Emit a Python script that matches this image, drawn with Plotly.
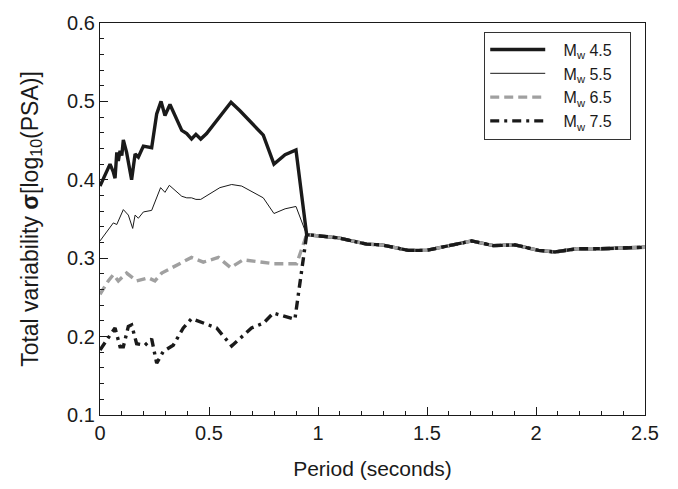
import plotly.graph_objects as go

# Shared long-period portion (all magnitudes converge)
tail_x = [1.093, 1.223, 1.292, 1.414, 1.498, 1.705, 1.804, 1.904, 2.011, 2.087, 2.187, 2.294, 2.5]
tail_y = [0.326, 0.318, 0.317, 0.310, 0.310, 0.322, 0.316, 0.317, 0.310, 0.308, 0.312, 0.312, 0.314]

mw45_x = [0.0, 0.046, 0.061, 0.069, 0.077, 0.084, 0.092, 0.100, 0.107, 0.122, 0.145, 0.161, 0.176, 0.199,
          0.237, 0.260, 0.280, 0.298, 0.321, 0.344, 0.375, 0.398, 0.420, 0.440, 0.462, 0.489, 0.601, 0.642,
          0.703, 0.749, 0.798, 0.849, 0.899, 0.948]
mw45_y = [0.392, 0.420, 0.410, 0.402, 0.435, 0.424, 0.437, 0.431, 0.451, 0.435, 0.400, 0.433, 0.429, 0.443,
          0.441, 0.484, 0.500, 0.482, 0.496, 0.482, 0.463, 0.459, 0.452, 0.458, 0.452, 0.459, 0.499, 0.488,
          0.470, 0.457, 0.420, 0.432, 0.438, 0.330]

mw55_x = [0.0, 0.038, 0.061, 0.077, 0.089, 0.107, 0.130, 0.150, 0.161, 0.176, 0.199, 0.237, 0.278, 0.298,
          0.318, 0.375, 0.398, 0.420, 0.440, 0.462, 0.550, 0.604, 0.650, 0.749, 0.798, 0.849, 0.899, 0.948]
mw55_y = [0.322, 0.336, 0.345, 0.343, 0.350, 0.362, 0.355, 0.338, 0.355, 0.351, 0.359, 0.361, 0.390, 0.384,
          0.393, 0.379, 0.377, 0.377, 0.375, 0.375, 0.390, 0.394, 0.392, 0.377, 0.357, 0.363, 0.366, 0.330]

mw65_x = [0.0, 0.038, 0.061, 0.084, 0.122, 0.168, 0.222, 0.252, 0.283, 0.336, 0.420, 0.474, 0.543, 0.599,
          0.657, 0.795, 0.902, 0.948]
mw65_y = [0.254, 0.271, 0.279, 0.271, 0.281, 0.271, 0.275, 0.271, 0.281, 0.289, 0.301, 0.295, 0.301, 0.288,
          0.298, 0.293, 0.293, 0.330]

mw75_x = [0.0, 0.046, 0.069, 0.092, 0.107, 0.130, 0.145, 0.168, 0.206, 0.237, 0.260, 0.290, 0.336, 0.382,
          0.420, 0.535, 0.604, 0.695, 0.749, 0.795, 0.894, 0.948]
mw75_y = [0.183, 0.203, 0.211, 0.187, 0.187, 0.213, 0.215, 0.191, 0.189, 0.197, 0.166, 0.181, 0.189, 0.211,
          0.223, 0.211, 0.188, 0.211, 0.217, 0.230, 0.222, 0.330]

names = ["M<sub>w</sub> 4.5", "M<sub>w</sub> 5.5", "M<sub>w</sub> 6.5", "M<sub>w</sub> 7.5"]
series = [(mw45_x, mw45_y), (mw55_x, mw55_y), (mw65_x, mw65_y), (mw75_x, mw75_y)]
styles = [
    dict(color="#1a1a1a", width=3.4, dash="solid"),
    dict(color="#1a1a1a", width=1.0, dash="solid"),
    dict(color="#a0a0a0", width=3.4, dash="9px,5px"),
    dict(color="#1a1a1a", width=3.4, dash="9px,5px,3px,5px"),
]

fig = go.Figure()
for name, (sx, sy), st in zip(names, series, styles):
    fig.add_trace(go.Scatter(x=sx + tail_x, y=sy + tail_y, mode="lines",
                             name="&nbsp;&nbsp;&nbsp;" + name + "&nbsp;&nbsp;&nbsp;", line=st))

font = "Liberation Sans, Arial, sans-serif"
fig.update_layout(
    width=678, height=489,
    margin=dict(l=100, r=33, t=14, b=68),
    paper_bgcolor="white", plot_bgcolor="white",
    font=dict(family=font, size=20, color="#1a1a1a"),
    showlegend=True,
    legend=dict(x=0.705, y=0.978, xanchor="left", yanchor="top",
                bordercolor="#333333", borderwidth=1, bgcolor="white",
                font=dict(size=16, family=font), tracegroupgap=0,
                itemwidth=55),
)
fig.update_xaxes(
    range=[0, 2.5], tickmode="array", tickvals=[0, 0.5, 1, 1.5, 2, 2.5],
    ticktext=["0", "0.5", "1", "1.5", "2", "2.5"],
    ticks="inside", ticklen=8, tickwidth=1, tickcolor="#1a1a1a",
    minor=dict(ticks="inside", ticklen=4, dtick=0.1, tickcolor="#1a1a1a", showgrid=False),
    showline=True, linecolor="#1a1a1a", linewidth=1.2, mirror=True,
    showgrid=False, zeroline=False,
    title=dict(text="Period (seconds)", font=dict(size=21), standoff=18),
)
fig.update_yaxes(
    range=[0.1, 0.6], tickmode="array", tickvals=[0.1, 0.2, 0.3, 0.4, 0.5, 0.6],
    ticktext=["0.1", "0.2", "0.3", "0.4", "0.5", "0.6"],
    ticks="inside", ticklen=8, tickwidth=1, tickcolor="#1a1a1a",
    minor=dict(ticks="inside", ticklen=4, dtick=0.02, tickcolor="#1a1a1a", showgrid=False),
    showline=True, linecolor="#1a1a1a", linewidth=1.2, mirror=True,
    showgrid=False, zeroline=False,
    title=dict(text="Total variability <b>σ</b>[log<sub>10</sub>(PSA)]", font=dict(size=23), standoff=22),
)

fig.write_html("out.html")
